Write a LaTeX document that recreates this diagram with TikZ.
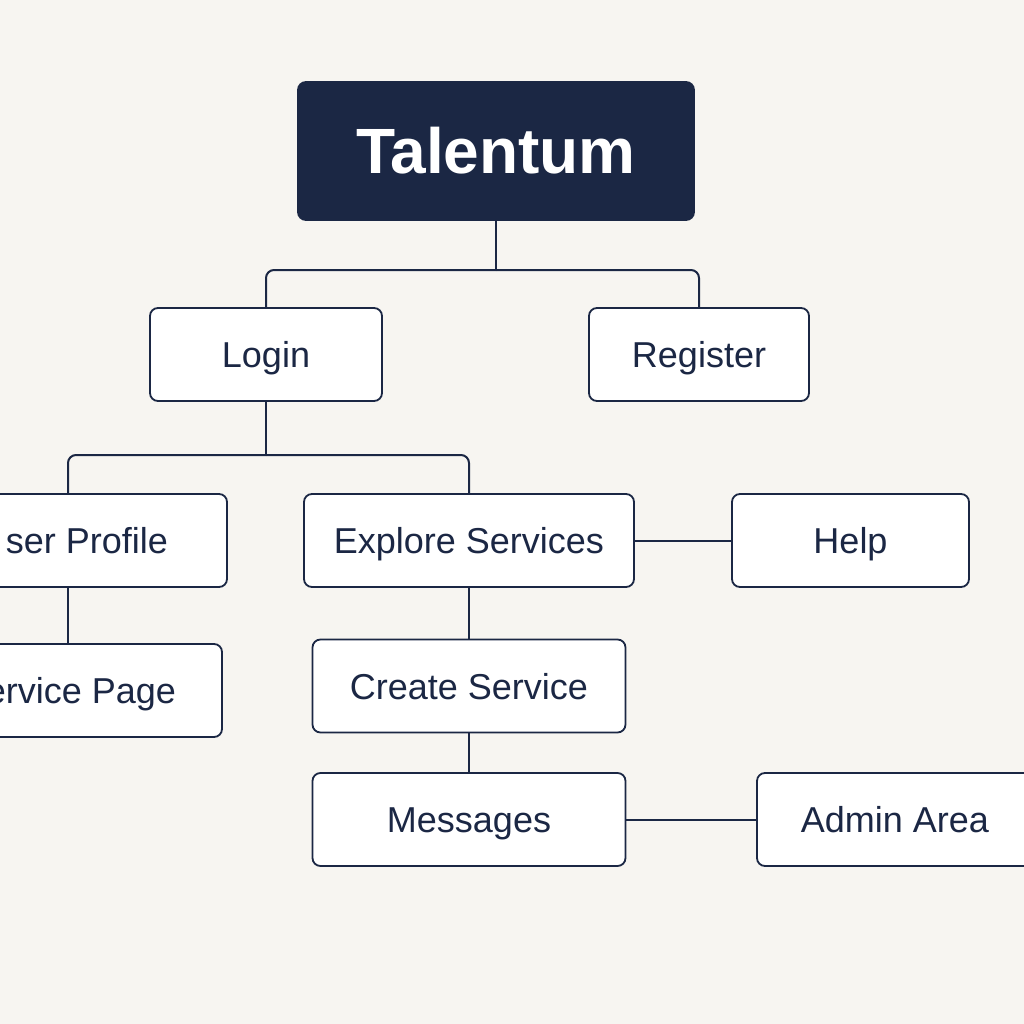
\documentclass[tikz,border=0pt]{standalone}
\usepackage{fontspec}
\setmainfont{Liberation Sans}
\usepackage{tikz}
\usetikzlibrary{positioning,calc}

\definecolor{navy}{HTML}{1B2744}
\definecolor{paper}{HTML}{F7F5F1}

\begin{document}
\begin{tikzpicture}[
  x=1pt, y=-1pt,
  every node/.style={font=\fontsize{36}{40}\selectfont, text=navy},
  menubox/.style={draw=navy, line width=1.8pt, fill=white, rounded corners=8pt,
    minimum height=93pt, text height=26pt, text depth=0pt, inner sep=0pt},
  rootbox/.style={draw=navy, line width=1.8pt, fill=navy, rounded corners=8pt,
    minimum width=396pt, minimum height=138pt, text=white,
    font=\fontsize{64}{70}\selectfont\bfseries, text height=46pt, text depth=0pt},
  link/.style={draw=navy, line width=2pt, rounded corners=8pt}
]
\useasboundingbox (0,0) rectangle (1024,1024);
\clip (0,0) rectangle (1024,1024);
\fill[paper] (0,0) rectangle (1024,1024);

% top
\node[rootbox] (talentum) at (496,151) {Talentum};

% first level
\node[menubox, minimum width=232pt] (login) at (266,354.5) {Login};
\node[menubox, minimum width=220pt] (register) at (699,354.5) {Register};

% second level
\node[menubox, minimum width=318pt] (profile) at (68,540.5) {\makebox[200pt][r]{ser Profile}};
\node[menubox, minimum width=330pt] (explore) at (469,540.5) {Explore Services};
\node[menubox, minimum width=237pt] (help) at (850.5,540.5) {Help};

% third level
\node[menubox, minimum width=308pt] (servicepage) at (68,690.5) {\makebox[216pt][r]{ervice Page}};
\node[menubox, minimum width=313pt] (create) at (469,686) {Create Service};
\node[menubox, minimum width=313pt] (messages) at (469,819.5) {Messages};
\node[menubox, minimum width=276pt] (admin) at (895,819.5) {Admin Area};

% connectors
\coordinate (split1) at (496,270);
\coordinate (split2) at (266,455);
\draw[link] (talentum.south) -- (split1);
\draw[link] (split1) -| (login.north);
\draw[link] (split1) -| (register.north);
\draw[link] (login.south) -- (split2);
\draw[link] (split2) -| (profile.north);
\draw[link] (split2) -| (explore.north);
\draw[link] (profile.south) -- (servicepage.north);
\draw[link] (explore.east) -- (help.west);
\draw[link] (explore.south) -- (create.north);
\draw[link] (create.south) -- (messages.north);
\draw[link] (messages.east) -- (admin.west);
\end{tikzpicture}
\end{document}
